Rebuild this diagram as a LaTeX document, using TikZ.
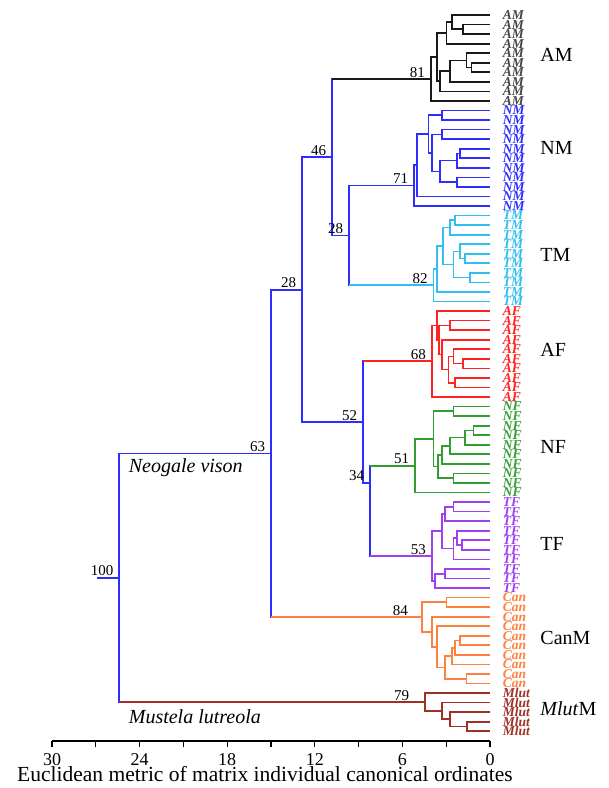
\documentclass[tikz,border=0pt]{standalone}
\usepackage{fontspec}
\setmainfont{Liberation Serif}
\usetikzlibrary{calc,positioning}

\definecolor{amline}{RGB}{25,25,25}
\definecolor{amtext}{RGB}{70,70,70}
\definecolor{nmblue}{RGB}{45,45,255}
\definecolor{tmcyan}{RGB}{50,190,240}
\definecolor{afred}{RGB}{255,35,35}
\definecolor{nfgreen}{RGB}{50,158,50}
\definecolor{tfviolet}{RGB}{160,64,240}
\definecolor{canorange}{RGB}{255,128,64}
\definecolor{mlbrown}{RGB}{158,48,38}

% clade: name, height, upper child, lower child
\newcommand\clade[4]{%
	\coordinate (#1) at ($(#3)!0.5!(#4)$);
	\coordinate (#1) at (#2,0 |- #1);
	\draw (#3) -| (#1) |- (#4);
}

\begin{document}
\begin{tikzpicture}[
		x=1pt, y=-1pt,
		line width=1.7pt,
		boot/.style={anchor=south east, inner sep=1pt, xshift=-4pt,
			font=\fontsize{15}{15}\selectfont},
		leaf/.style={anchor=west, inner sep=0pt, xshift=12pt,
			font=\fontsize{13.5}{13.5}\selectfont\bfseries\itshape},
		group/.style={anchor=west, inner sep=0pt,
			font=\fontsize{20}{20}\selectfont},
		species/.style={anchor=base west, inner sep=0pt,
			font=\fontsize{20}{20}\selectfont\itshape},
		tick/.style={anchor=base, inner sep=0pt,
			font=\fontsize{18}{18}\selectfont},
		]
		\useasboundingbox (0,0) rectangle (609,788);
		
		\begin{scope}[shift={(490,15)}, x=-14.6pt, y=-9.55pt]
			% leaves
			\foreach \i in {0,...,75}
			\coordinate (L\i) at (0,\i);
			\foreach \i in {0,...,9}
			\node[leaf, text=amtext] (t\i) at (L\i) {AM};
			\foreach \i in {10,...,20}
			\node[leaf, text=nmblue] (t\i) at (L\i) {NM};
			\foreach \i in {21,...,30}
			\node[leaf, text=tmcyan] (t\i) at (L\i) {TM};
			\foreach \i in {31,...,40}
			\node[leaf, text=afred] (t\i) at (L\i) {AF};
			\foreach \i in {41,...,50}
			\node[leaf, text=nfgreen] (t\i) at (L\i) {NF};
			\foreach \i in {51,...,60}
			\node[leaf, text=tfviolet] (t\i) at (L\i) {TF};
			\foreach \i in {61,...,70}
			\node[leaf, text=canorange] (t\i) at (L\i) {Can};
			\foreach \i in {71,...,75}
			\node[leaf, text=mlbrown] (t\i) at (L\i) {Mlut};
			
			% AM
			\begin{scope}[amline]
				\clade{am12}{1.83}{L1}{L2}
				\clade{am02}{2.62}{L0}{am12}
				\clade{am03}{2.97}{am02}{L3}
				\clade{am56}{1.26}{L5}{L6}
				\clade{am46}{1.60}{L4}{am56}
				\clade{am47}{2.74}{am46}{L7}
				\clade{am48}{3.42}{am47}{L8}
				\clade{am08}{3.65}{am03}{am48}
				\clade{n81}{4.06}{am08}{L9}
			\end{scope}
			% NM
			\begin{scope}[nmblue]
				\clade{nm01}{3.31}{L10}{L11}
				\clade{nm23}{3.31}{L12}{L13}
				\clade{nm45}{2.05}{L14}{L15}
				\clade{nm46}{2.24}{nm45}{L16}
				\clade{nm78}{2.28}{L17}{L18}
				\clade{nm48}{3.42}{nm46}{nm78}
				\clade{nm28}{3.99}{nm23}{nm48}
				\clade{nm08}{4.22}{nm01}{nm28}
				\clade{nm09}{5.02}{nm08}{L19}
				\clade{n71}{5.20}{nm09}{L20}
			\end{scope}
			% TM
			\begin{scope}[tmcyan]
				\clade{tm12}{2.40}{L21}{L22}
				\clade{tm13}{2.74}{tm12}{L23}
				\clade{tm56}{1.71}{L25}{L26}
				\clade{tm46}{2.05}{L24}{tm56}
				\clade{tm78}{1.37}{L27}{L28}
				\clade{tm48}{2.51}{tm46}{tm78}
				\clade{tm18}{3.20}{tm13}{tm48}
				\clade{tm19}{3.65}{tm18}{L29}
				\clade{n82}{3.88}{tm19}{L30}
			\end{scope}
			% AF
			\begin{scope}[afred]
				\clade{af23}{2.74}{L32}{L33}
				\clade{af67}{1.83}{L36}{L37}
				\clade{af57}{2.51}{L35}{af67}
				\clade{af89}{2.40}{L38}{L39}
				\clade{af59}{2.85}{af57}{af89}
				\clade{af49}{3.31}{L34}{af59}
				\clade{af29}{3.47}{af23}{af49}
				\clade{af19}{3.65}{L31}{af29}
				\clade{n68}{3.99}{af19}{L40}
			\end{scope}
			% NF
			\begin{scope}[nfgreen]
				\clade{nf12}{2.51}{L41}{L42}
				\clade{nf34}{1.14}{L43}{L44}
				\clade{nf35}{1.71}{nf34}{L45}
				\clade{nf36}{2.74}{nf35}{L46}
				\clade{nf37}{3.31}{nf36}{L47}
				\clade{nf89}{2.51}{L48}{L49}
				\clade{nf39}{3.54}{nf37}{nf89}
				\clade{nf19}{3.88}{nf12}{nf39}
				\clade{n51}{5.14}{nf19}{L50}
			\end{scope}
			% TF
			\begin{scope}[tfviolet]
				\clade{tf12}{2.51}{L51}{L52}
				\clade{tf13}{3.08}{tf12}{L53}
				\clade{tf67}{1.94}{L55}{L56}
				\clade{tf57}{2.28}{L54}{tf67}
				\clade{tf58}{2.51}{tf57}{L57}
				\clade{tf18}{3.31}{tf13}{tf58}
				\clade{tf90}{3.08}{L58}{L59}
				\clade{tf91}{3.77}{tf90}{L60}
				\clade{n53}{3.99}{tf18}{tf91}
			\end{scope}
			% Can
			\begin{scope}[canorange]
				\clade{ca12}{2.97}{L61}{L62}
				\clade{ca56}{2.05}{L65}{L66}
				\clade{ca57}{2.40}{ca56}{L67}
				\clade{ca58}{2.62}{ca57}{L68}
				\clade{ca90}{1.60}{L69}{L70}
				\clade{ca50}{3.08}{ca58}{ca90}
				\clade{ca40}{3.65}{L64}{ca50}
				\clade{ca30}{3.99}{L63}{ca40}
				\clade{n84}{4.68}{ca12}{ca30}
			\end{scope}
			% Mlut
			\begin{scope}[mlbrown]
				\clade{ml45}{1.58}{L74}{L75}
				\clade{ml35}{2.74}{L73}{ml45}
				\clade{ml25}{3.29}{L72}{ml35}
				\clade{n79}{4.45}{L71}{ml25}
			\end{scope}
			
			% backbone
			\begin{scope}[nmblue]
				\clade{n28b}{9.66}{n71}{n82}
				\clade{n46}{10.82}{n81}{n28b}
				% joins above the middle of its span
				\coordinate (n34) at (8.22,49);
				\draw (n51) -| (n34) |- (n53);
				\clade{n52}{8.70}{n68}{n34}
				\clade{n28a}{12.88}{n46}{n52}
				\clade{n63}{15.0}{n28a}{n84}
				\clade{root}{25.4}{n63}{n79}
				\coordinate (stub) at (26.9,0 |- root);
				\draw (root) -- (stub);
			\end{scope}
			% stems in clade colours
			\draw[amline] (n81) -- (n81 -| n46);
			\draw[tmcyan] (n82) -- (n82 -| n28b);
			\draw[afred] (n68) -- (n68 -| n52);
			\draw[nfgreen] (n51) -- (n51 -| n34);
			\draw[tfviolet] (n53) -- (n53 -| n34);
			\draw[canorange] (n84) -- (n84 -| n63);
			\draw[mlbrown] (n79) -- (n79 -| root);
			
			% support values
			\node[boot] (b100) at (root) {100};
			\node[boot] (b63) at (n63) {63};
			\node[boot] (b28a) at (n28a) {28};
			\node[boot] (b46) at (n46) {46};
			\node[boot] (b28b) at (n28b) {28};
			\node[boot] (b81) at (n81) {81};
			\node[boot] (b71) at (n71) {71};
			\node[boot] (b82) at (n82) {82};
			\node[boot] (b52) at (n52) {52};
			\node[boot] (b68) at (n68) {68};
			\node[boot] (b34) at (n34) {34};
			\node[boot] (b51) at (n51) {51};
			\node[boot] (b53) at (n53) {53};
			\node[boot, xshift=-8pt] (b84) at (n84) {84};
			\node[boot, xshift=-10pt] (b79) at (n79) {79};
			
			% group names
			\node[group] (gAM) at (-3.4,4.2) {AM};
			\node[group] (gNM) at (-3.4,13.9) {NM};
			\node[group] (gTM) at (-3.4,25.1) {TM};
			\node[group] (gAF) at (-3.4,35.1) {AF};
			\node[group] (gNF) at (-3.4,45.2) {NF};
			\node[group] (gTF) at (-3.4,55.4) {TF};
			\node[group] (gCan) at (-3.4,65.2) {CanM};
			\node[group] (gMl) at (-3.4,72.6) {\textit{Mlut}M};
		\end{scope}
		
		\node[species] (neo) at (128,472) {Neogale vison};
		\node[species] (mus) at (128,723) {Mustela lutreola};
		
		% axis
		\begin{scope}[shift={(490,0)}, x=-14.6pt]
			\coordinate (a0) at (0,741);
			\coordinate (a30) at (30,741);
			\draw[line width=1.2pt] (a30) -- (a0);
			\foreach \d in {0,3,...,30}
			\draw[line width=1.2pt] (\d,741) -- (\d,747);
			\foreach \d in {0,6,...,30}
			\node[tick] (tk\d) at (\d,765) {\d};
		\end{scope}
		\node[tick, font=\fontsize{21.5}{21.5}\selectfont] (xlab) at (265,781)
		{Euclidean metric of matrix individual canonical ordinates};
		
	\end{tikzpicture}
\end{document}
